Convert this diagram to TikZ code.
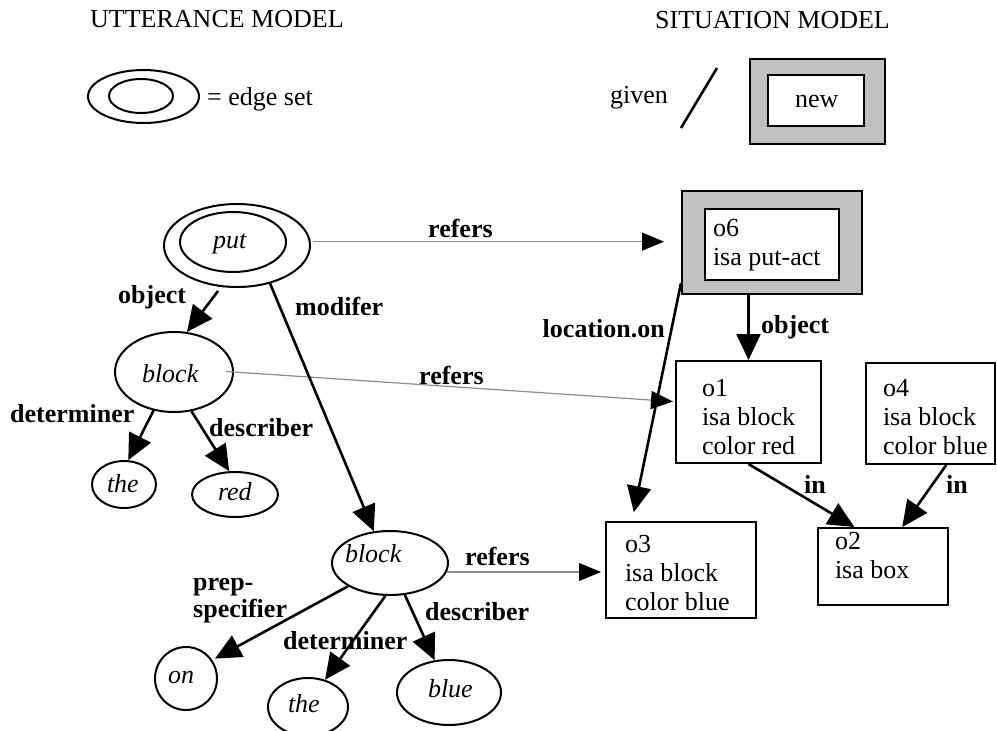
\documentclass[tikz,border=0pt]{standalone}
\usepackage{fontspec}
\setmainfont{Liberation Serif}
\usetikzlibrary{shapes.geometric,arrows.meta}
\definecolor{boxgray}{RGB}{192,192,192}
\definecolor{refgray}{RGB}{140,140,140}
\newcommand\tx[3]{\raisebox{#2}[0pt][0pt]{\makebox[0pt][l]{\hspace*{#1}#3}}}
\newcommand\lines[1]{\begin{tabular}[t]{@{}l@{}}#1\end{tabular}}
\begin{document}
\begin{tikzpicture}[x=1pt,y=-1pt,
  every node/.style={inner sep=0pt, font=\fontsize{26}{29}\selectfont},
  ell/.style={ellipse, draw, line width=2pt},
  obj/.style={rectangle, draw, line width=2pt},
  lbl/.style={anchor=base west, font=\fontsize{26}{29}\selectfont\bfseries},
  txt/.style={anchor=base west},
  rel/.style={line width=2.6pt, -{Triangle[length=26pt,width=24pt]}},
  ref/.style={draw=refgray, line width=1.2pt, -{Triangle[length=22pt,width=18pt,black]}},
]
\useasboundingbox (0,0) rectangle (997,731);

% titles and legend
\node[txt] (ttl1) at (90,27) {UTTERANCE MODEL};
\node[txt] (ttl2) at (655,28) {SITUATION MODEL};
\node[ell, minimum width=111pt, minimum height=53pt] (legout) at (143.5,96.5) {};
\node[ell, minimum width=64pt, minimum height=34pt] (legin) at (141,96) {};
\node[txt] (legtxt) at (207,105) {= edge set};
\node[txt] (given) at (610,103) {given};
\draw[line width=2.5pt] (681,128) -- (717,68);
\node[obj, fill=boxgray, minimum width=135pt, minimum height=85pt] (newout) at (817.5,101.5) {};
\node[obj, fill=white, minimum width=96pt, minimum height=51pt] (new) at (816,100.5) {\tx{-21pt}{-6.5pt}{new}};

% utterance model nodes
\node[ell, minimum width=146pt, minimum height=83pt] (put) at (237,245.5) {};
\node[ell, minimum width=106pt, minimum height=60pt] (putin) at (233,242) {\tx{-20pt}{-6pt}{\textit{put}}};
\node[ell, minimum width=118pt, minimum height=80pt] (block1) at (174,372) {\tx{-32pt}{-10pt}{\textit{block}}};
\node[ell, minimum width=64pt, minimum height=47pt] (the1) at (124,484.5) {\tx{-17pt}{-7.5pt}{\textit{the}}};
\node[ell, minimum width=86pt, minimum height=45pt] (red) at (235,494.5) {\tx{-17pt}{-5.5pt}{\textit{red}}};
\node[ell, minimum width=116pt, minimum height=64pt] (block2) at (390,563) {\tx{-45pt}{1pt}{\textit{block}}};
\node[ell, minimum width=62pt, minimum height=63pt] (on) at (186,678.5) {\tx{-18pt}{-4.5pt}{\textit{on}}};
\node[ell, minimum width=80pt, minimum height=58pt] (the2) at (308,707) {\tx{-20pt}{-5pt}{\textit{the}}};
\node[ell, minimum width=104pt, minimum height=65pt] (blue) at (449,692.5) {\tx{-21pt}{-4.5pt}{\textit{blue}}};

% situation model nodes
\node[obj, fill=boxgray, minimum width=180pt, minimum height=103pt] (o6out) at (772,242.5) {};
\node[obj, fill=white, minimum width=134pt, minimum height=71pt] (o6) at (772,244.5) {\tx{-59pt}{8.5pt}{\lines{o6\\isa put-act}}};
\node[obj, minimum width=145pt, minimum height=102pt] (o1) at (748.5,412) {\tx{-46.5pt}{16pt}{\lines{o1\\isa block\\color red}}};
\node[obj, minimum width=129pt, minimum height=101pt] (o4) at (930.5,413.5) {\tx{-47.5pt}{17.5pt}{\lines{o4\\isa block\\color blue}}};
\node[obj, minimum width=150pt, minimum height=96pt] (o3) at (681,570) {\tx{-56pt}{18pt}{\lines{o3\\isa block\\color blue}}};
\node[obj, minimum width=130pt, minimum height=77pt] (o2) at (883,566.5) {\tx{-48pt}{17.5pt}{\lines{o2\\isa box}}};

% connector labels
\node[lbl] (lobj) at (118,303) {object};
\node[lbl] (lmod) at (295,315) {modifer};
\node[lbl] (lref1) at (428,237) {refers};
\node[lbl] (lref2) at (419,384) {refers};
\node[lbl] (lref3) at (465,565) {refers};
\node[lbl, anchor=base east] (lloc) at (665,337) {location.on};
\node[lbl] (lobj2) at (761,333) {object};
\node[lbl] (lin1) at (804,493) {in};
\node[lbl] (lin2) at (946,493) {in};
\node[lbl] (ldet1) at (10,422) {determiner};
\node[lbl] (ldesc1) at (209,436) {describer};
\node[lbl] (lprep) at (193,590) {prep-};
\node[lbl] (lspec) at (193,617) {specifier};
\node[lbl] (ldet2) at (283,649) {determiner};
\node[lbl] (ldesc2) at (425,620) {describer};

% connectors
\draw[ref, shorten <=2pt, shorten >=17pt] (put.3) -- (put.3 -| o6out.west);
\draw[ref, shorten <=-8pt, shorten >=2pt] (block1.east) -- (o1.172);
\draw[ref, shorten >=4pt] (block2.-9) -- (block2.-9 -| o3.west);
\draw[rel, shorten <=5pt] (put.249) -- (block1.72);
\draw[rel] (put.-49) -- (block2.117);
\draw[rel] (block1.242) -- (the1.80);
\draw[rel] (block1.-66) -- (red.104);
\draw[rel, shorten >=3pt] (block2.209) -- (on.35);
\draw[rel] (block2.262) -- (the2.58);
\draw[rel] (block2.-65) -- (blue.114);
\draw[rel] (o1.north |- o6out.south) -- (o1.north);
\draw[rel, shorten >=9pt] (o6out.204) -- (o3.135);
\draw[rel] (o1.south) -- (o2.126);
\draw[rel] (o4.-73) -- (o2.64);
\end{tikzpicture}
\end{document}
